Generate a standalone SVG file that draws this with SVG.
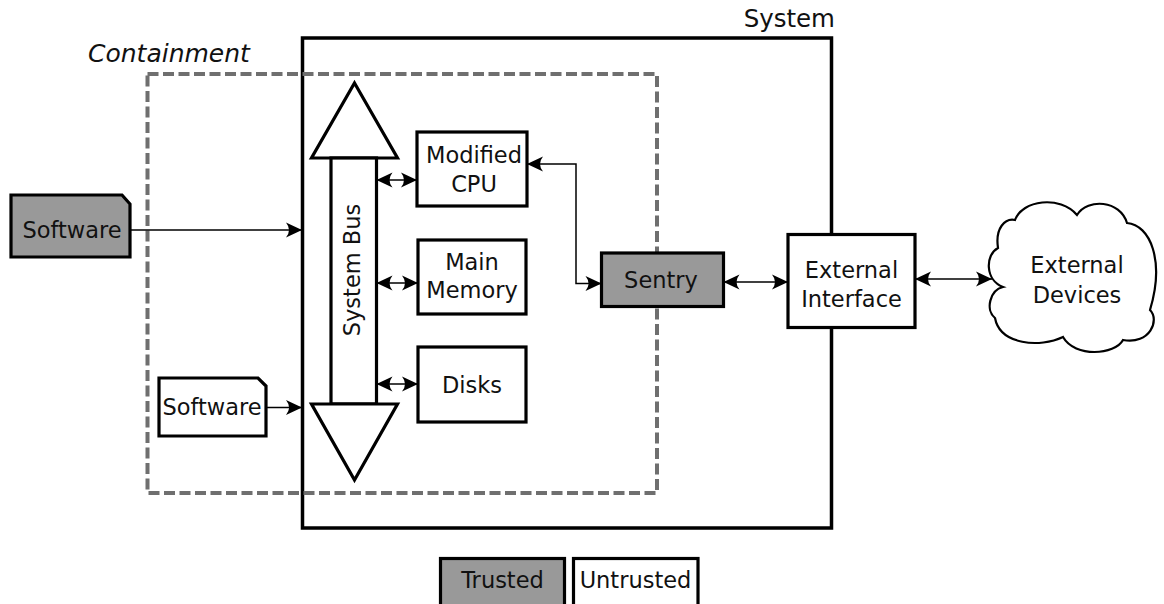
<svg xmlns="http://www.w3.org/2000/svg" width="1164" height="604" viewBox="0 0 1164 604">
<style>
text{font-family:"DejaVu Sans","Liberation Sans",sans-serif;font-size:22.5px;fill:#111}
.c{text-anchor:middle}
.box{fill:#fff;stroke:#000;stroke-width:3.2}
.trusted{fill:#999;stroke:#000;stroke-width:3.2}
.conn{fill:none;stroke:#000;stroke-width:1.5}
</style>
<defs>
<marker id="ah" viewBox="-17 -9 18 18" markerWidth="18" markerHeight="18" refX="0" refY="0" orient="auto-start-reverse" markerUnits="userSpaceOnUse">
<path d="M0,0 L-16,-7.5 Q-10,0 -16,7.5 Z" fill="#000"/>
</marker>
</defs>
<rect width="1164" height="604" fill="#fff"/>

<g id="system">
<rect x="302.5" y="38" width="529" height="490" fill="none" stroke="#000" stroke-width="3.5"/>
<text x="835" y="27" text-anchor="end" style="font-size:24.5px">System</text>
</g>

<g id="containment">
<rect x="147.5" y="74" width="509.5" height="419" fill="none" stroke="#6f6f6f" stroke-width="4" stroke-dasharray="11,4.5"/>
<text x="88" y="62" style="font-size:25px;font-style:italic">Containment</text>
</g>

<g id="software-trusted">
<path d="M11,195 H122 L130,204 V257 H11 Z" class="trusted"/>
<text x="72" y="238" class="c">Software</text>
</g>

<g id="software-untrusted">
<path d="M159,378 H258 L266,386 V436 H159 Z" class="box"/>
<text x="212" y="415" class="c">Software</text>
</g>

<g id="system-bus">
<path d="M354.5,83 L397.5,158 H311.5 Z" class="box"/>
<rect x="331" y="158" width="45.5" height="246" class="box"/>
<path d="M311.5,404 H397.5 L354.5,480 Z" class="box"/>
<text transform="translate(360,270) rotate(-90)" class="c">System Bus</text>
</g>

<g id="cpu">
<rect x="417" y="132" width="110" height="74" class="box"/>
<text x="474" y="163" class="c">Modified</text>
<text x="474" y="191.5" class="c">CPU</text>
</g>

<g id="memory">
<rect x="418" y="240" width="108" height="74" class="box"/>
<text x="472" y="270" class="c">Main</text>
<text x="472" y="298" class="c">Memory</text>
</g>

<g id="disks">
<rect x="418" y="347" width="108" height="75" class="box"/>
<text x="472" y="393" class="c">Disks</text>
</g>

<g id="sentry">
<rect x="601.5" y="253" width="122" height="53.5" class="trusted"/>
<text x="661" y="287.5" class="c">Sentry</text>
</g>

<g id="external-interface">
<rect x="788" y="234.5" width="127" height="93" class="box"/>
<text x="851.5" y="278" class="c">External</text>
<text x="851.5" y="306.5" class="c">Interface</text>
</g>

<g id="external-devices">
<path d="M1003,287 C985,280 985,255 998,248 C995,228 1005,218 1015,220 C1022,200 1060,195 1077,215 C1088,198 1120,200 1127,223 C1150,225 1165,260 1150,310 C1160,320 1150,345 1123,340 C1115,355 1075,358 1063,337 C1040,348 1000,345 995,318 C985,310 990,290 1003,287 Z" fill="#fff" stroke="#000" stroke-width="2.2"/>
<text x="1077" y="273" class="c">External</text>
<text x="1077" y="302.5" class="c">Devices</text>
</g>

<g id="legend">
<rect x="440.5" y="558.5" width="124" height="50" class="trusted"/>
<text x="502.5" y="588" class="c">Trusted</text>
<rect x="573.5" y="558.5" width="124.5" height="50" class="box"/>
<text x="635.5" y="588" class="c">Untrusted</text>
</g>

<g id="connectors">
<path d="M130,230 H302" class="conn" marker-end="url(#ah)"/>
<path d="M266,407.5 H302" class="conn" marker-end="url(#ah)"/>
<path d="M376.5,180 H417" class="conn" marker-start="url(#ah)" marker-end="url(#ah)"/>
<path d="M376.5,283 H418" class="conn" marker-start="url(#ah)" marker-end="url(#ah)"/>
<path d="M376.5,384 H418" class="conn" marker-start="url(#ah)" marker-end="url(#ah)"/>
<path d="M527,164 H576 V283.5 H601.5" class="conn" marker-start="url(#ah)" marker-end="url(#ah)"/>
<path d="M723.5,282 H788" class="conn" marker-start="url(#ah)" marker-end="url(#ah)"/>
<path d="M915,279 H992" class="conn" marker-start="url(#ah)" marker-end="url(#ah)"/>
</g>
</svg>
